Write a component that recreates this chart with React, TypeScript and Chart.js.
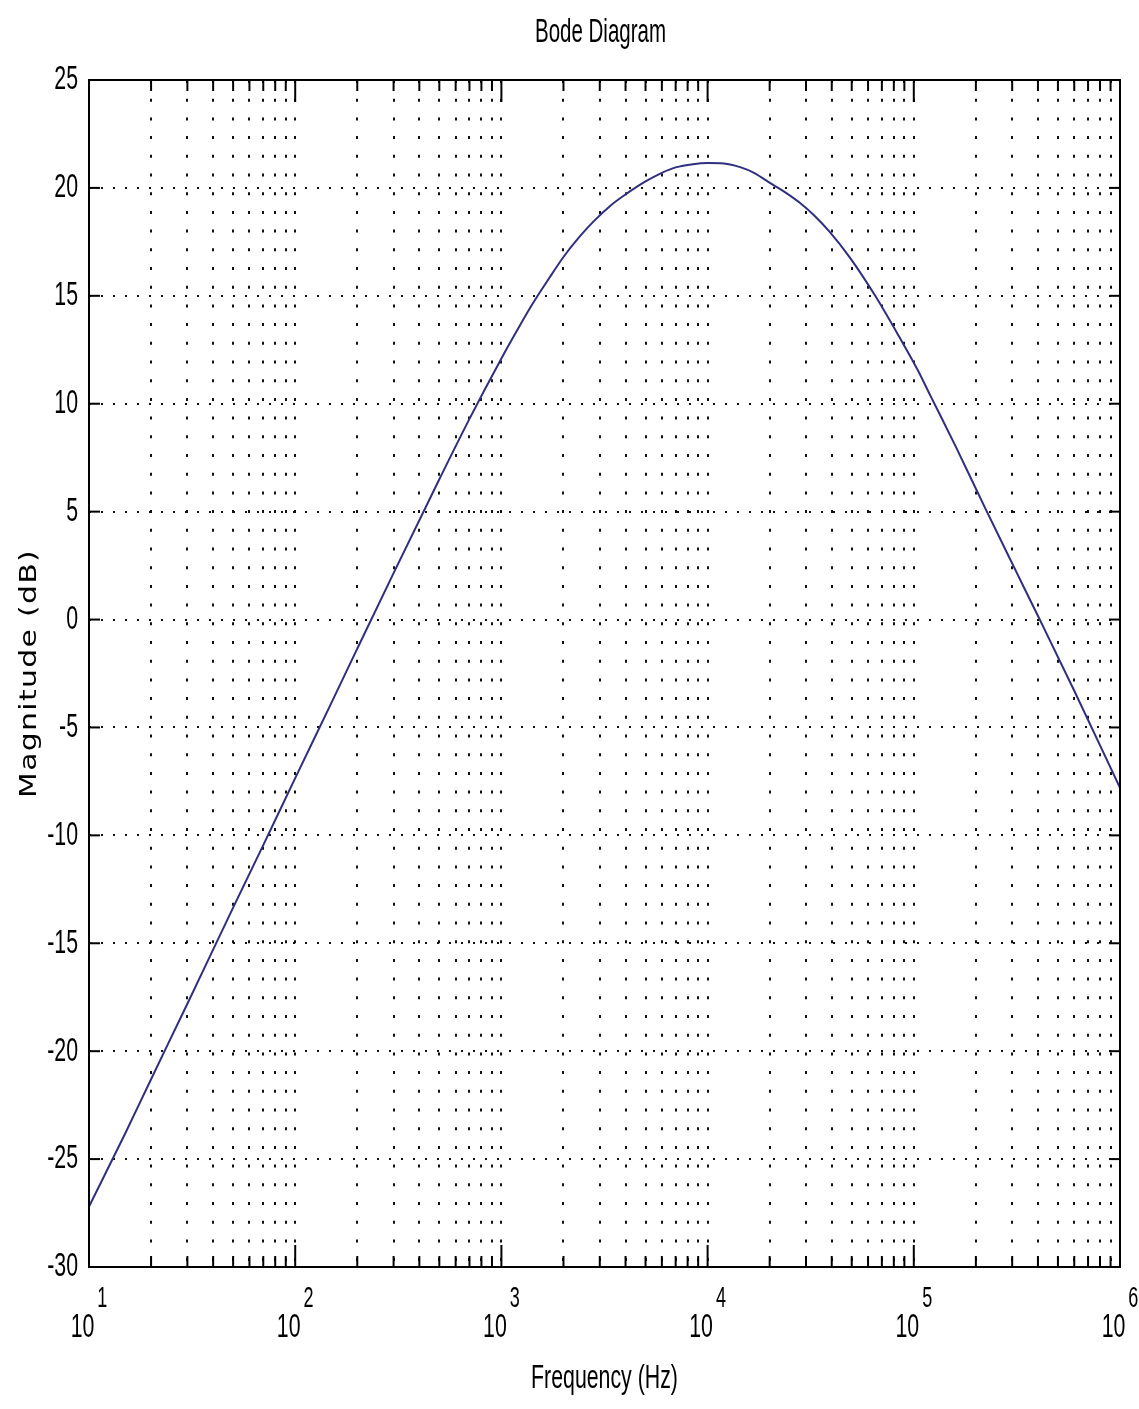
import React, { useEffect, useRef } from "react";
import { Chart, registerables } from "chart.js";

Chart.register(...registerables);

// ---- data ----
const frequenciesHz = [
  10, 15, 20, 30, 50, 70, 100, 150, 200, 300, 500, 700, 1000, 1200, 1400, 1700,
  2000, 2400, 2800, 3400, 4000, 5000, 6000, 7000, 8500, 10000, 12000, 14500,
  16600, 20700, 24000, 28000, 33000, 39000, 49000, 65000, 85000, 104000,
  120000, 160000, 221000, 300000, 408000, 600000, 1000000,
];
const magnitudesDb = [
  -27.2, -23.8, -21.3, -17.8, -13.35, -10.45, -7.35, -3.85, -1.35, 2.15, 6.5,
  9.3, 12.1, 13.45, 14.55, 15.8, 16.8, 17.75, 18.45, 19.2, 19.7, 20.3, 20.7,
  20.95, 21.1, 21.15, 21.13, 20.95, 20.72, 20.15, 19.77, 19.31, 18.71, 17.97,
  16.77, 15.0, 13.1, 11.6, 10.4, 8.0, 5.2, 2.6, 0.0, -3.3, -7.8,
];
const yTickValues = [25, 20, 15, 10, 5, 0, -5, -10, -15, -20, -25, -30];
const yTickLabels = ["25", "20", "15", "10", "5", "0", "-5", "-10", "-15", "-20", "-25", "-30"];
const decadeExponents = [1, 2, 3, 4, 5, 6];
const minorMultipliers = [1, 2, 3, 4, 5, 6, 7, 8, 9];
const titleText = "Bode Diagram";
const xTitleText = "Frequency (Hz)";
const yTitleText = "Magnitude (dB)";

const SANS = '"Liberation Sans", Arial, sans-serif';
const SX = 0.82; // narrow look
const SY = 1.3; // tall look

function stretchedText(
  ctx: CanvasRenderingContext2D,
  text: string,
  x: number,
  y: number,
  font: string,
  align: CanvasTextAlign,
  baseline: CanvasTextBaseline
) {
  ctx.save();
  ctx.translate(x, y);
  ctx.scale(SX, SY);
  ctx.font = font;
  ctx.textAlign = align;
  ctx.textBaseline = baseline;
  ctx.fillText(text, 0, 0);
  ctx.restore();
}

export default function App() {
  const canvasRef = useRef<HTMLCanvasElement | null>(null);

  useEffect(() => {
    const canvas = canvasRef.current;
    if (!canvas) return;

    const xTickValues: number[] = [];
    decadeExponents.forEach((e, i) => {
      if (i < decadeExponents.length - 1) {
        minorMultipliers.forEach((m) => xTickValues.push(m * Math.pow(10, e)));
      } else {
        xTickValues.push(Math.pow(10, e));
      }
    });
    const majorValues = decadeExponents.map((e) => Math.pow(10, e));

    const decor = {
      id: "bodeDecor",
      afterDatasetsDraw(chart: any) {
        const { ctx, chartArea: a } = chart;
        const xs = chart.scales.x;
        const ys = chart.scales.y;
        ctx.save();
        ctx.strokeStyle = "#000";
        ctx.fillStyle = "#000";
        ctx.setLineDash([]);

        // frame
        ctx.lineWidth = 2;
        ctx.strokeRect(a.left, a.top, a.right - a.left, a.bottom - a.top);

        // inner tick marks
        const line = (x1: number, y1: number, x2: number, y2: number) => {
          ctx.beginPath();
          ctx.moveTo(x1, y1);
          ctx.lineTo(x2, y2);
          ctx.stroke();
        };
        ctx.lineWidth = 2;
        xTickValues.forEach((v) => {
          const px = xs.getPixelForValue(v);
          const len = majorValues.includes(v) ? 22 : 11;
          line(px, a.bottom, px, a.bottom - len);
          line(px, a.top, px, a.top + len);
        });
        yTickValues.forEach((v) => {
          const py = ys.getPixelForValue(v);
          line(a.left, py, a.left + 11, py);
          line(a.right, py, a.right - 11, py);
        });

        // y tick labels
        yTickValues.forEach((v, i) => {
          const py = ys.getPixelForValue(v);
          stretchedText(ctx, yTickLabels[i], a.left - 11, py, `26px ${SANS}`, "right", "middle");
        });

        // x tick labels: 10 with superscript exponent
        decadeExponents.forEach((e) => {
          const px = xs.getPixelForValue(Math.pow(10, e));
          ctx.font = `26px ${SANS}`;
          const wBase = ctx.measureText("10").width * SX;
          ctx.font = `22px ${SANS}`;
          const wExp = ctx.measureText(String(e)).width * SX;
          const gap = 3;
          const total = wBase + gap + wExp;
          const start = px - total / 2;
          stretchedText(ctx, "10", start, a.bottom + 70, `26px ${SANS}`, "left", "alphabetic");
          stretchedText(ctx, String(e), start + wBase + gap, a.bottom + 40, `22px ${SANS}`, "left", "alphabetic");
        });

        // title
        const cx = (a.left + a.right) / 2;
        stretchedText(ctx, titleText, cx - 4, 42, `25px ${SANS}`, "center", "alphabetic");
        // x title
        stretchedText(ctx, xTitleText, cx, a.bottom + 121, `26px ${SANS}`, "center", "alphabetic");

        // y title (rotated, stretched along reading direction)
        ctx.save();
        ctx.translate(36, (a.top + a.bottom) / 2);
        ctx.rotate(-Math.PI / 2);
        ctx.scale(SY, 1);
        ctx.font = `23px "DejaVu Sans", Verdana, sans-serif`;
        (ctx as any).letterSpacing = "1px";
        ctx.textAlign = "center";
        ctx.textBaseline = "alphabetic";
        ctx.fillText(yTitleText, 0, 0);
        ctx.restore();

        ctx.restore();
      },
    };

    const chart = new Chart(canvas, {
      type: "line",
      data: {
        datasets: [
          {
            data: frequenciesHz.map((f, i) => ({ x: f, y: magnitudesDb[i] })),
            borderColor: "#2f2f7f",
            borderWidth: 2,
            pointRadius: 0,
            fill: false,
            cubicInterpolationMode: "monotone",
          },
        ],
      },
      options: {
        animation: false,
        responsive: false,
        devicePixelRatio: 1,
        layout: { padding: { left: 89, right: 19, top: 80, bottom: 142 } },
        plugins: {
          legend: { display: false },
          tooltip: { enabled: false },
          title: { display: false },
        },
        scales: {
          x: {
            type: "logarithmic",
            min: 10,
            max: 1000000,
            afterBuildTicks: (scale: any) => {
              scale.ticks = xTickValues.map((v) => ({ value: v }));
            },
            afterFit: (scale: any) => {
              scale.height = 0;
            },
            ticks: { display: false },
            grid: {
              display: true,
              drawTicks: false,
              color: "#111",
              lineWidth: 2,
              borderDash: [3, 15.7],
            } as any,
            border: { display: false, dash: [3, 15.7] },
          },
          y: {
            type: "linear",
            min: -30,
            max: 25,
            afterBuildTicks: (scale: any) => {
              scale.ticks = yTickValues.map((v) => ({ value: v }));
            },
            afterFit: (scale: any) => {
              scale.width = 0;
            },
            ticks: { display: false },
            grid: {
              display: true,
              drawTicks: false,
              color: "#111",
              lineWidth: 2,
              borderDash: [2, 10],
            } as any,
            border: { display: false, dash: [2, 10] },
          },
        },
      },
      plugins: [decor],
    } as any);

    return () => chart.destroy();
  }, []);

  return (
    <div style={{ position: "fixed", left: 0, top: 0, width: 1139, height: 1409, background: "#fff" }}>
      <canvas ref={canvasRef} width={1139} height={1409} style={{ width: 1139, height: 1409, display: "block" }} />
    </div>
  );
}
